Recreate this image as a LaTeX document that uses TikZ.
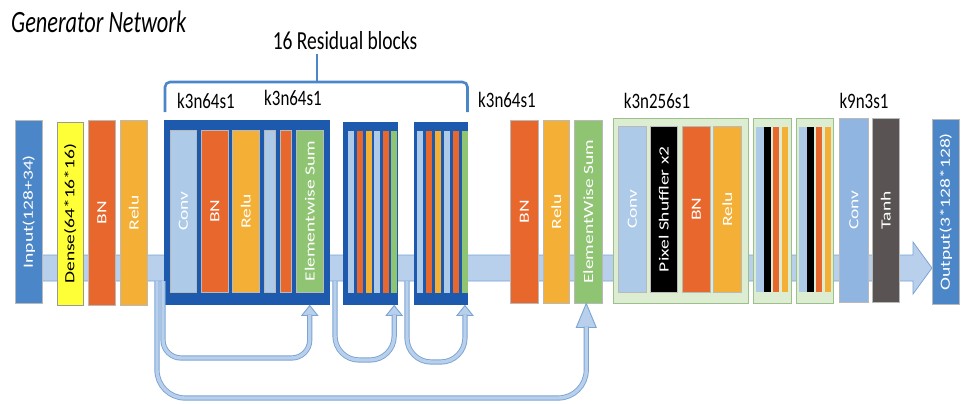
\documentclass[tikz,border=0pt]{standalone}
\usepackage{fontspec}
\setmainfont{Carlito}
\usetikzlibrary{backgrounds,calc}
\definecolor{cIn}{HTML}{4A86C8}
\definecolor{cDense}{HTML}{FFFF38}
\definecolor{cBN}{HTML}{E8672C}
\definecolor{cRelu}{HTML}{F4AF36}
\definecolor{cConvL}{HTML}{AECAE9}
\definecolor{cConvM}{HTML}{8FB5E0}
\definecolor{cGreen}{HTML}{8FC473}
\definecolor{cDark}{HTML}{1D5AAD}
\definecolor{cPale}{HTML}{DCEDD2}
\definecolor{cPaleB}{HTML}{9DBF8B}
\definecolor{cTanh}{HTML}{595354}
\definecolor{cPipe}{HTML}{B8D0EC}
\definecolor{cEdge}{HTML}{7BA3D3}
\newcommand\vlabel[1]{\rotatebox{90}{\scalebox{1}[0.72]{#1}}}
\newcommand\hlabel[1]{\scalebox{0.77}[1]{#1}}
\begin{document}
\begin{tikzpicture}[x=1pt,y=-1pt,
  blk/.style={anchor=north west, inner sep=0pt, draw=gray!55, line width=0.5pt,
    text=white, font=\fontsize{19.5}{20}\selectfont},
  bx/.style n args={3}{blk, fill=#1, minimum width=#2, minimum height=#3},
  stripe/.style n args={3}{anchor=north west, inner sep=0pt, draw=none, fill=#1,
    minimum width=#2, minimum height=#3},
  klabel/.style={anchor=base, font=\fontsize{22}{22}\selectfont},
  pipe/.style={fill=cPipe, draw=cEdge, line width=0.8pt},
  skip/.style={draw=cEdge, double=cPipe, double distance=3.4pt, line width=0.9pt},
  skiphead/.style={fill=cPipe, draw=cEdge, line width=0.9pt, line join=miter},
  brace/.style={draw=cIn, line width=2.6pt, rounded corners=5pt}]
\useasboundingbox (0,0) rectangle (961,404);

% titles
\node[anchor=base west, inner sep=0pt, font=\fontsize{31}{31}\selectfont\itshape] (title) at (11,33) {\scalebox{0.72}[1]{Generator Network}};
\node[anchor=base, inner sep=0pt, font=\fontsize{26}{26}\selectfont] (res) at (345,50) {\scalebox{0.75}[1]{16 Residual blocks}};

% first stage
\node[bx={cIn}{27pt}{183pt}] (in) at (15,120) {\vlabel{Input(128+34)}};
\node[bx={cDense}{26pt}{183pt}, text=black, draw=gray!80] (dense) at (57,122) {\vlabel{Dense(64*16*16)}};
\node[bx={cBN}{27pt}{185pt}] (bn1) at (88,120) {\vlabel{BN}};
\node[bx={cRelu}{27pt}{185pt}] (relu1) at (120,120) {\vlabel{Relu}};

% residual block 1
\node[bx={cDark}{166pt}{185pt}, draw=none] (rb1) at (164,120) {};
\node[bx={cConvL}{26pt}{162pt}] (conv1) at (170,130) {\vlabel{Conv}};
\node[bx={cBN}{27pt}{162pt}] (bn2) at (201,130) {\vlabel{BN}};
\node[bx={cRelu}{27pt}{162pt}] (relu2) at (232,130) {\vlabel{Relu}};
\node[bx={cConvL}{11pt}{162pt}] (conv1b) at (264,130) {};
\node[bx={cBN}{11pt}{162pt}] (bn2b) at (280,130) {};
\node[bx={cGreen}{27pt}{162pt}] (es1) at (296,130) {\vlabel{Elementwise Sum}};

% residual blocks 2 and 3
\node[bx={cDark}{55pt}{183pt}, draw=none] (rb2) at (343,122) {};
\node[stripe={cConvL}{5.5pt}{162pt}] (rb2a) at (348,131) {};
\node[stripe={cBN}{5.5pt}{162pt}] (rb2b) at (357,131) {};
\node[stripe={cRelu}{5.5pt}{162pt}] (rb2c) at (366,131) {};
\node[stripe={cConvL}{5.5pt}{162pt}] (rb2d) at (374,131) {};
\node[stripe={cBN}{5.5pt}{162pt}] (rb2e) at (383,131) {};
\node[stripe={cGreen}{6pt}{162pt}] (rb2g) at (391,131) {};

\node[bx={cDark}{54pt}{183pt}, draw=none] (rb3) at (414,122) {};
\node[stripe={cConvL}{5.5pt}{162pt}] (rb3a) at (417,131) {};
\node[stripe={cBN}{5.5pt}{162pt}] (rb3b) at (426,131) {};
\node[stripe={cRelu}{5.5pt}{162pt}] (rb3c) at (435,131) {};
\node[stripe={cConvL}{5.5pt}{162pt}] (rb3d) at (444,131) {};
\node[stripe={cBN}{5.5pt}{162pt}] (rb3e) at (453,131) {};
\node[stripe={cGreen}{5.5pt}{162pt}] (rb3g) at (462,131) {};

% after residual blocks
\node[bx={cBN}{28pt}{183pt}] (bn3) at (510,120) {\vlabel{BN}};
\node[bx={cRelu}{26pt}{183pt}] (relu3) at (543,120) {\vlabel{Relu}};
\node[bx={cGreen}{28pt}{183pt}] (es2) at (574,120) {\vlabel{ElementWise Sum}};

% upsampling blocks
\node[bx={cPale}{135pt}{185pt}, draw=cPaleB] (up1) at (613,118) {};
\node[bx={cConvL}{28pt}{166pt}] (conv2) at (618,126) {\vlabel{Conv}};
\node[bx={black}{27pt}{166pt}] (ps) at (650,126) {\vlabel{Pixel Shuffler x2}};
\node[bx={cBN}{28pt}{166pt}] (bn4) at (682,126) {\vlabel{BN}};
\node[bx={cRelu}{28pt}{166pt}] (relu4) at (713,126) {\vlabel{Relu}};

\node[bx={cPale}{38pt}{185pt}, draw=cPaleB] (up2) at (753,118) {};
\node[stripe={cConvL}{7.5pt}{165pt}] (up2a) at (756,127) {};
\node[stripe={black}{7pt}{165pt}] (up2b) at (764,127) {};
\node[stripe={cBN}{6pt}{165pt}] (up2c) at (773,127) {};
\node[stripe={cRelu}{6pt}{165pt}] (up2d) at (782,127) {};

\node[bx={cPale}{37pt}{185pt}, draw=cPaleB] (up3) at (796,118) {};
\node[stripe={cConvL}{8pt}{165pt}] (up3a) at (799,127) {};
\node[stripe={black}{7pt}{165pt}] (up3b) at (807,127) {};
\node[stripe={cBN}{6pt}{165pt}] (up3c) at (816,127) {};
\node[stripe={cRelu}{6pt}{165pt}] (up3d) at (825,127) {};

% output stage
\node[bx={cConvM}{29pt}{184pt}] (conv3) at (839,118) {\vlabel{Conv}};
\node[bx={cTanh}{27pt}{184pt}] (tanh) at (872,118) {\vlabel{Tanh}};
\node[bx={cIn}{27pt}{185pt}] (out) at (932,119) {\vlabel{Output(3*128*128)}};

% kernel labels
\node[klabel] (k1) at (206,108) {\hlabel{k3n64s1}};
\node[klabel] (k2) at (293,106) {\hlabel{k3n64s1}};
\node[klabel] (k3) at (507,107) {\hlabel{k3n64s1}};
\node[klabel] (k4) at (657,108) {\hlabel{k3n256s1}};
\node[klabel] (k5) at (864,108) {\hlabel{k9n3s1}};

% brace over the residual blocks
\draw[brace] ($(rb1.north west)+(1,-8)$) -- ($(rb1.north west)+(1,-38)$) -- ($(rb3.north east)+(-1,-40)$) -- ($(rb3.north east)+(-1,-10)$);
\draw[draw=cIn, line width=2.6pt] (res.south |- 0,83) ++(-28,0) coordinate (bs) -- (bs |- 0,54);

% main data path
\begin{scope}[on background layer]
\filldraw[pipe] (in.east |- 0,255) -- (913,255) -- (913,242) -- (out.west |- 0,268)
  -- (913,294) -- (913,281) -- (in.east |- 0,281) -- cycle;
\end{scope}

% skip connections
\coordinate (s1) at (163,281);
\coordinate (s4) at (157,281);
\coordinate (s2) at (335,281);
\coordinate (s3) at (407,281);
\coordinate (t1) at (es1 |- rb1.south);
\coordinate (t2) at (rb2g |- rb2.south);
\coordinate (t3) at (rb3g |- rb3.south);
\coordinate (t4) at ($(es2.south)+(-2,0)$);
\coordinate (h1) at ($(t1)+(0,9)$);
\coordinate (h2) at ($(t2)+(0,9)$);
\coordinate (h3) at ($(t3)+(0,9)$);
\coordinate (h4) at ($(t4)+(0,23)$);

\filldraw[skiphead] (t1) -- ($(t1)+(-8,10)$) -- ($(t1)+(8,10)$) -- cycle;
\filldraw[skiphead] (t2) -- ($(t2)+(-8,10)$) -- ($(t2)+(8,10)$) -- cycle;
\filldraw[skiphead] (t3) -- ($(t3)+(-8,10)$) -- ($(t3)+(8,10)$) -- cycle;
\filldraw[skiphead] (t4) -- ($(t4)+(-10,24)$) -- ($(t4)+(10,24)$) -- cycle;

\draw[skip, rounded corners=18pt] (s1) -- (s1 |- 0,358) -- (h1 |- 0,358) -- (h1);
\draw[skip, rounded corners=24pt] (s2) -- (s2 |- 0,360) -- (h2 |- 0,360) -- (h2);
\draw[skip, rounded corners=24pt] (s3) -- (s3 |- 0,362) -- (h3 |- 0,362) -- (h3);
\draw[skip, rounded corners=28pt] (s4) -- (s4 |- 0,398) -- (h4 |- 0,398) -- (h4);
\end{tikzpicture}
\end{document}
